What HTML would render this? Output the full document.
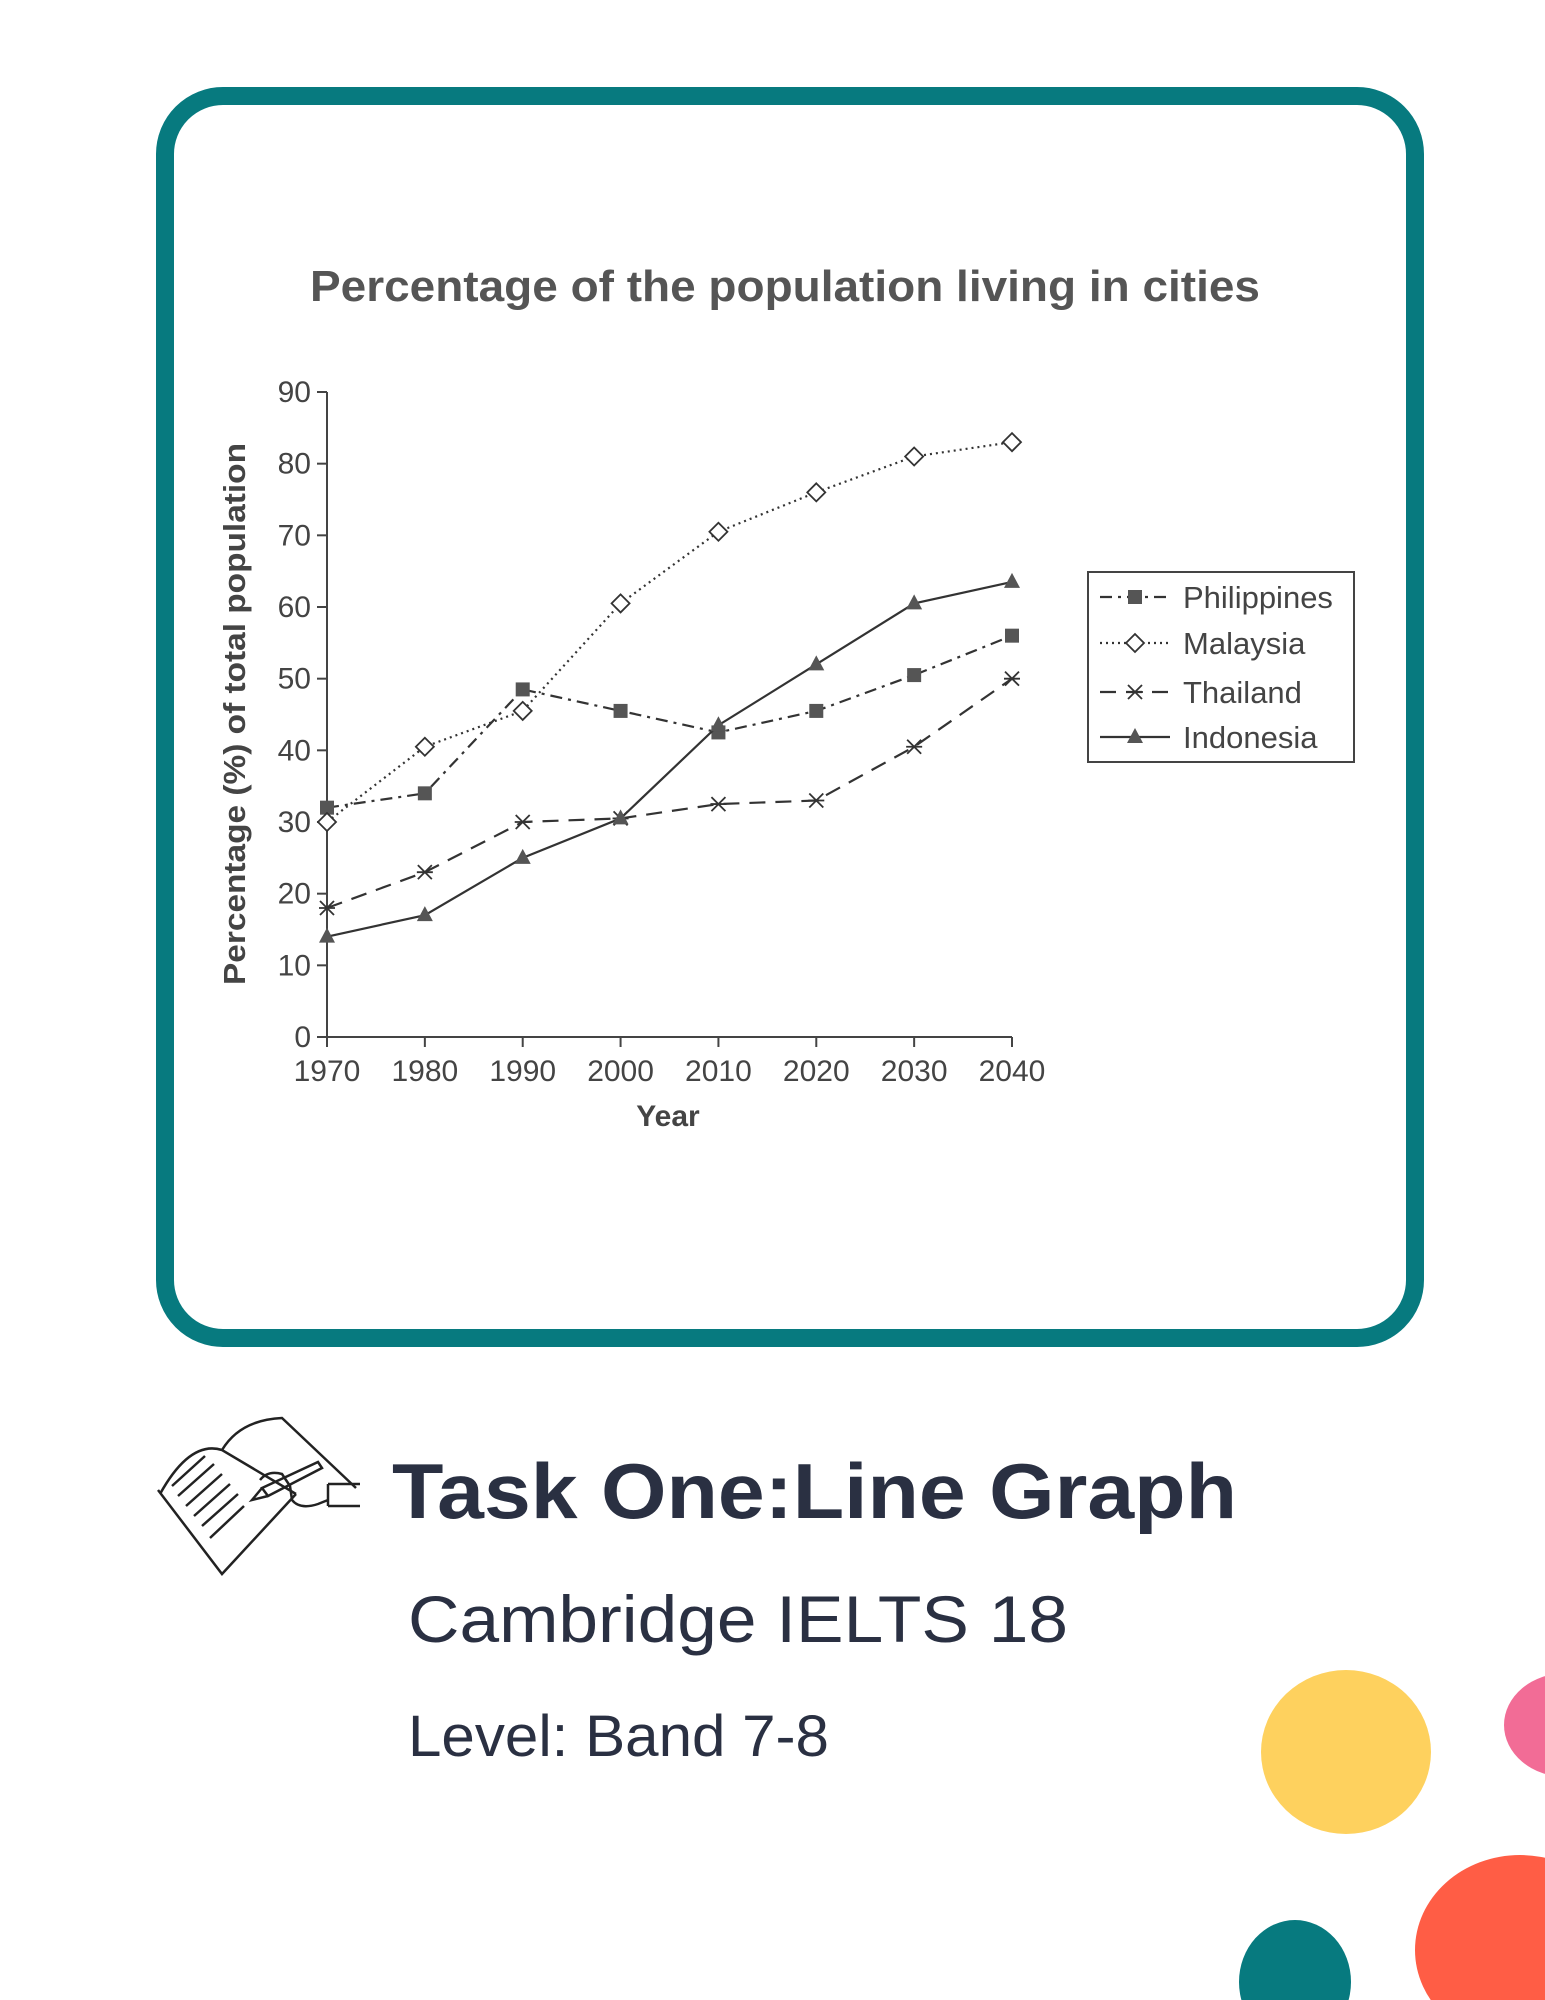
<!DOCTYPE html>
<html><head><meta charset="utf-8"><style>
html,body{margin:0;padding:0;background:#fff;}
svg{display:block;font-family:"Liberation Sans",sans-serif;}
</style></head><body>
<svg width="1545" height="2000" viewBox="0 0 1545 2000">
<rect x="165" y="96" width="1250" height="1242" rx="58" fill="#fff" stroke="#077A7F" stroke-width="18"/>
<text x="785" y="301" text-anchor="middle" font-size="44" font-weight="bold" fill="#555" textLength="950" lengthAdjust="spacingAndGlyphs">Percentage of the population living in cities</text>
<g id="axes"></g>
<g id="series"></g>
<text transform="translate(245,714) rotate(-90)" text-anchor="middle" font-size="31" font-weight="bold" fill="#444" textLength="542" lengthAdjust="spacingAndGlyphs">Percentage (%) of total population</text>
<text x="668" y="1126" text-anchor="middle" font-size="30" font-weight="bold" fill="#444">Year</text>
<g>
<rect x="1088" y="572" width="266" height="190" fill="#fff" stroke="#444" stroke-width="2"/>
<g id="legend"></g>
</g>
<g fill="none" stroke="#222" stroke-width="2.5">
<path d="M158,1490 L222,1574 L296,1494 M160,1494 Q190,1440 222,1450 L296,1494 M222,1450 Q240,1420 282,1418 L356,1488"/>
<path d="M172,1486 L205,1456 M178,1496 L214,1464 M186,1506 L222,1474 M194,1516 L230,1484 M202,1526 L238,1494 M210,1538 L244,1506"/>
<path d="M262,1488 L318,1462 L322,1468 L268,1496 Z M262,1488 L252,1500 L268,1496"/>
<path d="M260,1480 Q268,1470 282,1474 L290,1486 L292,1500 Q300,1510 318,1504 L328,1500 M328,1484 L360,1484 M328,1506 L360,1506 M328,1484 L328,1506"/>
</g>
<text x="392" y="1518" font-size="78" font-weight="bold" fill="#2A3042" textLength="845" lengthAdjust="spacingAndGlyphs">Task One:Line Graph</text>
<text x="408" y="1642" font-size="66" fill="#2A3042" textLength="660" lengthAdjust="spacingAndGlyphs">Cambridge IELTS 18</text>
<text x="408" y="1756" font-size="58" fill="#2A3042" textLength="421" lengthAdjust="spacingAndGlyphs">Level: Band 7-8</text>
<ellipse cx="1346" cy="1752" rx="85" ry="82" fill="#FED15E"/>
<ellipse cx="1566" cy="1725" rx="62" ry="52" fill="#F26C96"/>
<ellipse cx="1520" cy="1950" rx="105" ry="95" fill="#FF5D45"/>
<ellipse cx="1295" cy="1982" rx="56" ry="62" fill="#077A7F"/>
</svg>
<script>
const years=[1970,1980,1990,2000,2010,2020,2030,2040];
const yTicks=[0,10,20,30,40,50,60,70,80,90];
const philippines=[32,34,48.5,45.5,42.5,45.5,50.5,56];
const malaysia=[30,40.5,45.5,60.5,70.5,76,81,83];
const thailand=[18,23,30,30.5,32.5,33,40.5,50];
const indonesia=[14,17,25,30.5,43.5,52,60.5,63.5];
const seriesNames=["Philippines","Malaysia","Thailand","Indonesia"];

const NS="http://www.w3.org/2000/svg";
const X0=327,X1=1012,Y0=1037,Y1=392;
function xs(y){return X0+(y-1970)/(2040-1970)*(X1-X0);}
function ys(v){return Y0-(v/90)*(Y0-Y1);}
function mk(tag,at,parent){const e=document.createElementNS(NS,tag);for(const k in at)e.setAttribute(k,at[k]);parent.appendChild(e);return e;}
const axes=document.getElementById('axes');
let e=mk('line',{x1:X0,y1:Y0,x2:X1,y2:Y0,stroke:'#444','stroke-width':2},axes);


e=mk('line',{x1:X0,y1:Y0,x2:X0,y2:Y1,stroke:'#444','stroke-width':2},axes);


yTicks.forEach(t=>{
 mk('line',{x1:X0-10,y1:ys(t),x2:X0,y2:ys(t),stroke:'#444','stroke-width':2},axes);
 const tx=mk('text',{x:X0-16,y:ys(t)+10,'text-anchor':'end','font-size':30,fill:'#444'},axes);
 tx.textContent=t;
 
 
});
years.forEach(t=>{
 mk('line',{x1:xs(t),y1:Y0,x2:xs(t),y2:Y0+10,stroke:'#444','stroke-width':2},axes);
 const tx=mk('text',{x:xs(t),y:Y0+44,'text-anchor':'middle','font-size':30,fill:'#444'},axes);
 tx.textContent=t;
 
 
});
const styles=[
 {dash:'12 6 3 6',m:'square'},
 {dash:'2 4',m:'diamond'},
 {dash:'16 10',m:'x'},
 {dash:'',m:'triangle'}];
function marker(type,cx,cy,g){
 if(type==='square')mk('rect',{x:cx-7,y:cy-7,width:14,height:14,fill:'#555'},g);
 else if(type==='diamond')mk('path',{d:`M${cx},${cy-9}L${cx+9},${cy}L${cx},${cy+9}L${cx-9},${cy}Z`,fill:'#fff',stroke:'#333','stroke-width':1.8},g);
 else if(type==='x')mk('path',{d:`M${cx-7},${cy-7}L${cx+7},${cy+7}M${cx-7},${cy+7}L${cx+7},${cy-7}M${cx-8},${cy}L${cx+8},${cy}`,stroke:'#333','stroke-width':1.8},g);
 else mk('path',{d:`M${cx},${cy-9}L${cx+8},${cy+6}L${cx-8},${cy+6}Z`,fill:'#555'},g);
}
const sg=document.getElementById('series');
[philippines,malaysia,thailand,indonesia].forEach((arr,i)=>{
 const g=mk('g',{},sg);
 
 
 const d=arr.map((v,j)=>(j?'L':'M')+xs(years[j])+','+ys(v)).join('');
 const p=mk('path',{d:d,fill:'none',stroke:'#333','stroke-width':2.2,'stroke-dasharray':styles[i].dash},g);
 
 
 arr.forEach((v,j)=>marker(styles[i].m,xs(years[j]),ys(v),g));
});
const lg=document.getElementById('legend');
const rowY=[597,643,692,737];
seriesNames.forEach((n,i)=>{
 const g=mk('g',{},lg);
 
 
 mk('line',{x1:1100,y1:rowY[i],x2:1170,y2:rowY[i],stroke:'#333','stroke-width':2.2,'stroke-dasharray':styles[i].dash},g);
 marker(styles[i].m,1135,rowY[i],g);
 const t=mk('text',{x:1183,y:rowY[i]+11,'font-size':31,fill:'#444'},g);
 t.textContent=n;
});
</script>
</body></html>
